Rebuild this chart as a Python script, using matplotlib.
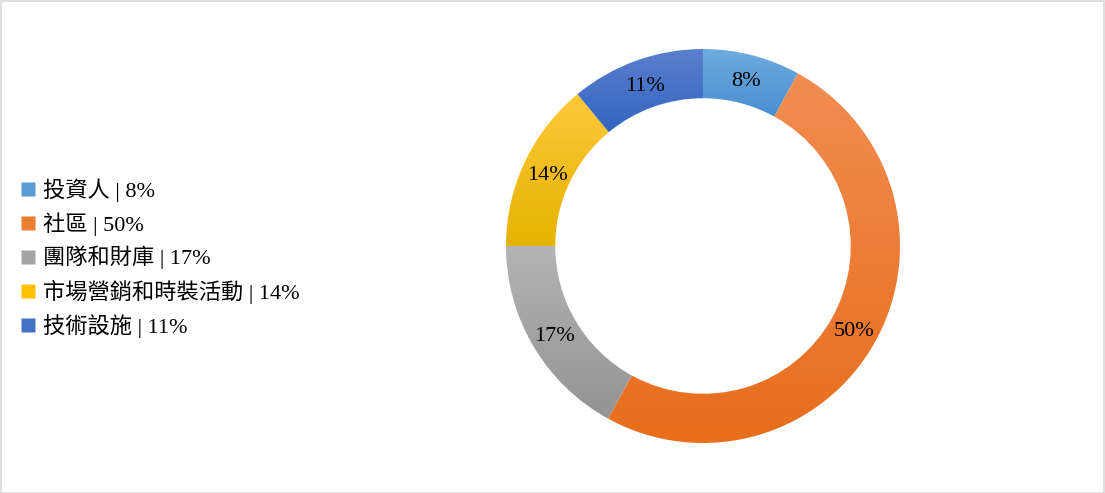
import numpy as np
import matplotlib.pyplot as plt
from matplotlib.colors import LinearSegmentedColormap
from matplotlib.lines import Line2D
from matplotlib.patches import Rectangle

plt.rcParams['font.family'] = ['Liberation Serif', 'Noto Sans CJK TC']

labels = ['投資人', '社區', '團隊和財庫', '市場營銷和時裝活動', '技術設施']
values = [8, 50, 17, 14, 11]
# (top, bottom) gradient colours of each slice
tops = ['#70aae0', '#f18d52', '#b4b4b4', '#ffc83c', '#5b7fcd']
bottoms = ['#478ecf', '#e86d1c', '#939393', '#e5b300', '#3365c0']
legend_cols = ['#5b9bd5', '#ed7d31', '#a5a5a5', '#ffc000', '#4472c4']

W, H = 1105, 493
fig = plt.figure(figsize=(W / 100, H / 100), dpi=100)
fig.patches.append(Rectangle((0.5 / W, 0.5 / H), 1 - 1.5 / W, 1 - 1.5 / H,
                             transform=fig.transFigure, fill=False,
                             edgecolor='#d9d9d9', linewidth=1.2))

cx, cy, R = 703, 247, 197
half = 200
ax = fig.add_axes([(cx - half) / W, (cy - half) / H, 2 * half / W, 2 * half / H])

wedges, _ = ax.pie(values, startangle=90, counterclock=False, radius=1,
                   wedgeprops=dict(width=0.25, linewidth=0, edgecolor='none'),
                   colors=legend_cols)
lim = half / R

# vertical gradient per slice
grad = np.linspace(0, 1, 256).reshape(-1, 1)
for w, t, b in zip(wedges, tops, bottoms):
    ext = w.get_path().get_extents()
    cmap = LinearSegmentedColormap.from_list('g', [t, b])
    im = ax.imshow(grad, cmap=cmap, aspect='auto', origin='upper',
                   extent=[ext.x0, ext.x1, ext.y0, ext.y1], zorder=2,
                   interpolation='bilinear')
    im.set_clip_path(w)
    w.set_facecolor('none')
ax.set_xlim(-lim, lim)
ax.set_ylim(-lim, lim)
ax.set_aspect('equal')
ax.axis('off')

# data labels in the middle of the ring
total = sum(values)
start = 90.0
for v in values:
    mid = np.deg2rad(start - 360.0 * v / total / 2)
    ax.text(0.875 * np.cos(mid), 0.875 * np.sin(mid), f'{v}%',
            ha='center', va='center_baseline', fontsize=16, zorder=3)
    start -= 360.0 * v / total

handles = [Line2D([], [], marker='s', linestyle='none', markersize=10,
                  markerfacecolor=c, markeredgecolor='none') for c in legend_cols]
fig.legend(handles, [f'{l} | {v}%' for l, v in zip(labels, values)],
           loc='center left', bbox_to_anchor=(9 / W, 235 / H), frameon=False,
           fontsize=16, handlelength=0.75, handletextpad=0.3, labelspacing=0.46,
           borderpad=0)

fig.savefig('out.png', dpi=100)
